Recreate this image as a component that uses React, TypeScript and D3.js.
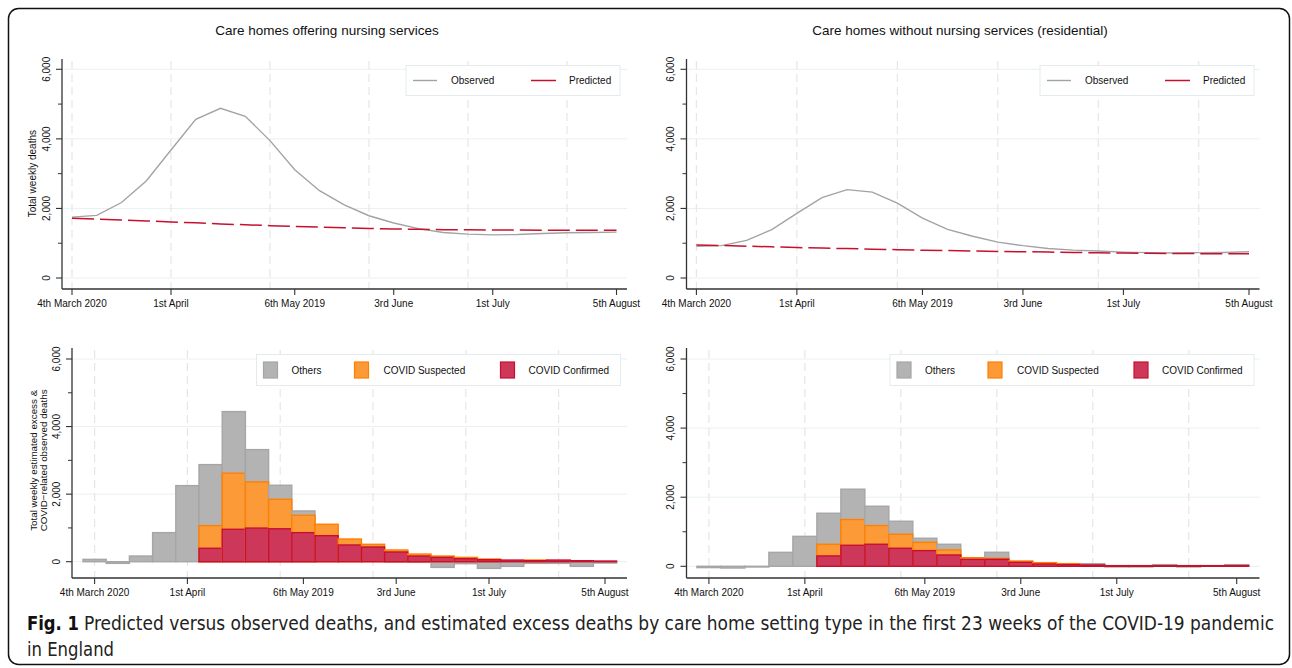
import React from "react"
import * as d3 from "d3"

// week index 0 = 4th March 2020
const weeks = [0, 1, 2, 3, 4, 5, 6, 7, 8, 9, 10, 11, 12, 13, 14, 15, 16, 17, 18, 19, 20, 21, 22]
const tickWeeks = [0, 4, 9, 13, 17, 22]
const tickLabels = ["4th March 2020", "1st April", "6th May 2019", "3rd June", "1st July", "5th August"]
const gridWeeks = [0, 4, 8, 12, 16, 20]
const yTicks = [0, 2000, 4000, 6000]
const yMinor = [1000, 3000, 5000]

const nursingObserved = [1750, 1800, 2170, 2790, 3680, 4560, 4880, 4650, 3950, 3110, 2510, 2100, 1790, 1580, 1420, 1310, 1260, 1240, 1250, 1280, 1300, 1310, 1320]
const nursingPredicted = [1720, 1695, 1665, 1640, 1610, 1585, 1555, 1530, 1505, 1485, 1465, 1445, 1425, 1410, 1400, 1390, 1385, 1380, 1378, 1376, 1375, 1375, 1375]
const residentialObserved = [910, 930, 1080, 1390, 1860, 2310, 2540, 2470, 2150, 1720, 1400, 1200, 1030, 930, 850, 800, 775, 745, 730, 720, 730, 735, 755]
const residentialPredicted = [950, 935, 915, 895, 875, 860, 845, 830, 815, 800, 790, 775, 765, 755, 745, 735, 725, 718, 712, 705, 700, 697, 695]

const nursingConfirmed = [0, 0, 0, 0, 0, 397, 959, 995, 975, 860, 770, 495, 435, 287, 168, 128, 89, 59, 49, 30, 49, 30, 20]
const nursingSuspected = [0, 0, 0, 0, 0, 670, 1660, 1366, 873, 514, 338, 177, 80, 60, 59, 40, 39, 20, 0, 19, 0, 0, 0]
const nursingOthers = [69, -49, 168, 860, 2252, 1807, 1825, 957, 415, 128, 0, 0, 0, -10, -20, -168, -59, -198, -138, -49, -49, -138, -40]

const residentialConfirmed = [0, 0, 0, 0, 0, 300, 609, 638, 522, 454, 328, 202, 202, 116, 67, 48, 39, 19, 19, 19, 19, 19, 20]
const residentialSuspected = [0, 0, 0, 0, 0, 338, 744, 541, 406, 242, 145, 48, 29, 38, 39, 29, 0, 0, 0, 0, 0, 0, 0]
const residentialOthers = [-38, -50, -20, 404, 867, 898, 879, 560, 376, 116, 165, 0, 175, 0, 0, 0, 38, -19, -19, 29, -19, 0, 28]

const GREY = "#a3a3a3"
const RED = "#c8102e"
const FONT = "'Liberation Sans', Arial, Helvetica, sans-serif"
const CAPTION_FONT = "'Liberation Sans Narrow', 'DejaVu Sans Condensed', 'Liberation Sans', sans-serif"

const barColors = {
  others: { fill: "#b3b3b3", stroke: "#a6a6a6" },
  suspected: { fill: "#fd9a38", stroke: "#ff8000" },
  confirmed: { fill: "#cd375a", stroke: "#c8102e" },
}

type Panel = {
  left: number; right: number; top: number; bottom: number
  x0: number; x22: number; y0: number; y6k: number
}

const panels: Record<string, Panel> = {
  tl: { left: 62, right: 627, top: 59, bottom: 289, x0: 72, x22: 616.5, y0: 278, y6k: 69.3 },
  tr: { left: 686.5, right: 1259.5, top: 59, bottom: 289, x0: 696.4, x22: 1249, y0: 278, y6k: 69.3 },
  bl: { left: 72, right: 627, top: 348, bottom: 578, x0: 94.6, x22: 605, y0: 561.7, y6k: 359 },
  br: { left: 686.5, right: 1259.5, top: 348, bottom: 578, x0: 708.9, x22: 1236.7, y0: 566.3, y6k: 359 },
}

const scales = (p: Panel) => ({
  x: d3.scaleLinear().domain([0, 22]).range([p.x0, p.x22]),
  y: d3.scaleLinear().domain([0, 6000]).range([p.y0, p.y6k]),
})

const Grid = ({ p }: { p: Panel }) => {
  const { x, y } = scales(p)
  return (
    <g>
      {yTicks.map(t => (
        <line key={"h" + t} x1={p.left} x2={p.right} y1={y(t)} y2={y(t)} stroke="#e8f0f1" strokeWidth={1} />
      ))}
      {gridWeeks.map(w => (
        <line key={"v" + w} x1={x(w)} x2={x(w)} y1={p.top + 2} y2={p.bottom} stroke="#e6e6e6" strokeWidth={1.2} strokeDasharray="8 5" />
      ))}
    </g>
  )
}

const Axes = ({ p, yTitle }: { p: Panel; yTitle?: string[] }) => {
  const { x, y } = scales(p)
  const fmt = d3.format(",")
  return (
    <g fontFamily={FONT} fill="#111">
      <line x1={p.left} x2={p.left} y1={p.top} y2={p.bottom} stroke="#333" strokeWidth={1.3} />
      <line x1={p.left} x2={p.right} y1={p.bottom} y2={p.bottom} stroke="#333" strokeWidth={1.3} />
      {yTicks.map(t => (
        <g key={t}>
          <line x1={p.left - 6} x2={p.left} y1={y(t)} y2={y(t)} stroke="#333" strokeWidth={1.1} />
          <text transform={`translate(${p.left - 12.5},${y(t)}) rotate(-90)`} textAnchor="middle" fontSize={10}>{fmt(t)}</text>
        </g>
      ))}
      {yMinor.map(t => (
        <line key={t} x1={p.left - 4} x2={p.left} y1={y(t)} y2={y(t)} stroke="#333" strokeWidth={1} />
      ))}
      {tickWeeks.map((w, i) => (
        <g key={w}>
          <line x1={x(w)} x2={x(w)} y1={p.bottom} y2={p.bottom + 6} stroke="#333" strokeWidth={1.1} />
          <text x={x(w)} y={p.bottom + 17.5} textAnchor="middle" fontSize={10}>{tickLabels[i]}</text>
        </g>
      ))}
      {yTitle && yTitle.map((line, i) => (
        <text key={i} transform={`translate(${(yTitle.length === 1 ? 36 : 37) + i * 9.5},${(y(0) + y(6000)) / 2}) rotate(-90)`} textAnchor="middle" fontSize={yTitle.length === 1 ? 10 : 9.8}>{line}</text>
      ))}
    </g>
  )
}

const LinePanel = ({ p, observed, predicted, legendX, title, titleX, yTitle }: {
  p: Panel; observed: number[]; predicted: number[]; legendX: number; title: string; titleX: number; yTitle?: string[]
}) => {
  const { x, y } = scales(p)
  const line = d3.line<number>().x((_, i) => x(weeks[i])).y(d => y(d))
  return (
    <g>
      <text x={titleX} y={35} textAnchor="middle" fontFamily={FONT} fontSize={13.5} fill="#111">{title}</text>
      <Grid p={p} />
      <path d={line(observed) || ""} fill="none" stroke={GREY} strokeWidth={1.4} />
      <path d={line(predicted) || ""} fill="none" stroke={RED} strokeWidth={1.5} strokeDasharray="22 6" />
      <Axes p={p} yTitle={yTitle} />
      <g fontFamily={FONT} fontSize={10} fill="#111">
        <rect x={legendX} y={65.5} width={214} height={30} fill="#fff" stroke="#e3ebec" strokeWidth={1} />
        <line x1={legendX + 7} x2={legendX + 31} y1={80.5} y2={80.5} stroke={GREY} strokeWidth={1.4} />
        <text x={legendX + 45} y={84}>Observed</text>
        <line x1={legendX + 125} x2={legendX + 150} y1={80.5} y2={80.5} stroke={RED} strokeWidth={1.5} />
        <text x={legendX + 163} y={84}>Predicted</text>
      </g>
    </g>
  )
}

const BarPanel = ({ p, confirmed, suspected, others, legendX, yTitle }: {
  p: Panel; confirmed: number[]; suspected: number[]; others: number[]; legendX: number; yTitle?: string[]
}) => {
  const { x, y } = scales(p)
  const bw = x(1) - x(0)
  const rect = (w: number, a: number, b: number, c: { fill: string; stroke: string }, key: string) => {
    const y1 = Math.min(y(a), y(b))
    const h = Math.abs(y(a) - y(b))
    if (h < 0.1) return null
    return <rect key={key} x={x(w) - bw / 2} y={y1} width={bw} height={h} fill={c.fill} stroke={c.stroke} strokeWidth={1.4} />
  }
  const items = [
    { label: "Others", c: barColors.others, sx: 7, tx: 35 },
    { label: "COVID Suspected", c: barColors.suspected, sx: 98, tx: 127 },
    { label: "COVID Confirmed", c: barColors.confirmed, sx: 244, tx: 272 },
  ]
  return (
    <g>
      <Grid p={p} />
      {weeks.map(w => {
        const c = confirmed[w], s = suspected[w], o = others[w]
        return (
          <g key={w}>
            {o > 0 ? rect(w, 0, c + s + o, barColors.others, "o") : rect(w, 0, o, barColors.others, "o")}
            {s > 0 && rect(w, 0, c + s, barColors.suspected, "s")}
            {c > 0 && rect(w, 0, c, barColors.confirmed, "c")}
          </g>
        )
      })}
      <Axes p={p} yTitle={yTitle} />
      <g fontFamily={FONT} fontSize={10} fill="#111">
        <rect x={legendX} y={354.5} width={364} height={31} fill="#fff" stroke="#e3ebec" strokeWidth={1} />
        {items.map(it => (
          <g key={it.label}>
            <rect x={legendX + it.sx} y={362} width={14} height={16} fill={it.c.fill} stroke={it.c.stroke} strokeWidth={1.2} />
            <text x={legendX + it.tx} y={373.5}>{it.label}</text>
          </g>
        ))}
      </g>
    </g>
  )
}

export default function App() {
  return (
    <svg width={1292} height={668} style={{ position: "absolute", left: 0, top: 0, background: "#fff" }}>
      <rect x={8.5} y={8.5} width={1281} height={656} rx={10} fill="#fff" stroke="#111" strokeWidth={1.5} />
      <LinePanel p={panels.tl} observed={nursingObserved} predicted={nursingPredicted} legendX={406}
        title="Care homes offering nursing services" titleX={327} yTitle={["Total weekly deaths"]} />
      <LinePanel p={panels.tr} observed={residentialObserved} predicted={residentialPredicted} legendX={1040}
        title="Care homes without nursing services (residential)" titleX={960} />
      <BarPanel p={panels.bl} confirmed={nursingConfirmed} suspected={nursingSuspected} others={nursingOthers}
        legendX={256.5} yTitle={["Total weekly estimated excess &", "COVID\u2212related observed deaths"]} />
      <BarPanel p={panels.br} confirmed={residentialConfirmed} suspected={residentialSuspected} others={residentialOthers}
        legendX={890} />
      <text x={27} y={630} fontFamily={CAPTION_FONT} fontSize={19} fontWeight="bold" fill="#111"
        textLength={52} lengthAdjust="spacingAndGlyphs">Fig. 1</text>
      <text x={84} y={630} fontFamily={CAPTION_FONT} fontSize={19} fill="#222"
        textLength={1190} lengthAdjust="spacingAndGlyphs">Predicted versus observed deaths, and estimated excess deaths by care home setting type in the first 23 weeks of the COVID-19 pandemic</text>
      <text x={27} y={656} fontFamily={CAPTION_FONT} fontSize={19} fill="#222"
        textLength={87} lengthAdjust="spacingAndGlyphs">in England</text>
    </svg>
  )
}
